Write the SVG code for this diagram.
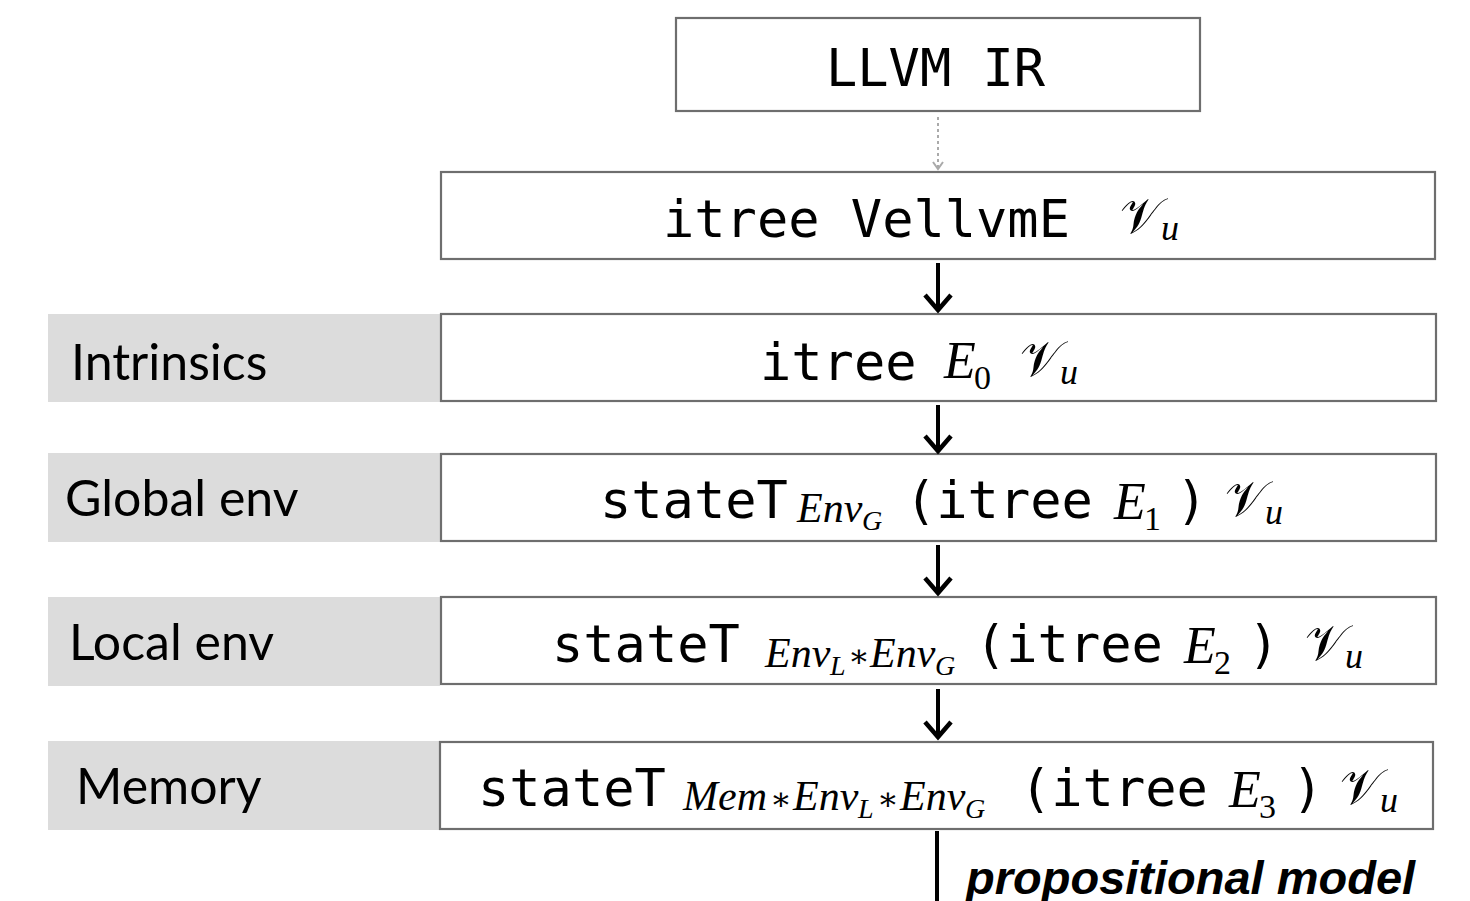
<svg xmlns="http://www.w3.org/2000/svg" width="1470" height="901" viewBox="0 0 1470 901">
  <style>
    .box { fill: #ffffff; stroke: #6e6e6e; stroke-width: 2.2; }
    .band { fill: #dcdcdc; }
    .mono { font-family: "DejaVu Sans Mono", "Liberation Mono", monospace; font-size: 52px; fill: #000; }
    .mi { font-family: "Liberation Serif", serif; font-style: italic; fill: #000; }
    .up { font-family: "Liberation Serif", serif; font-style: normal; fill: #000; }
    .op { font-family: "DejaVu Serif", serif; font-style: normal; font-size: 32px; fill: #000; }
    .cal { font-family: "DejaVu Serif", "DejaVu Sans", serif; font-size: 50px; fill: #000; }
    .lbl { font-family: "Lato", "Open Sans", sans-serif; font-size: 50px; fill: #000; }
    .arrow { stroke: #000; stroke-width: 4; fill: none; }
    .head { stroke: #000; stroke-width: 4.5; fill: none; stroke-linecap: butt; stroke-linejoin: miter; }
  </style>

  <!-- grey layer labels -->
  <g id="layer-intrinsics">
    <rect class="band" x="48" y="314" width="392" height="88"/>
    <text class="lbl" x="71" y="380">Intrinsics</text>
  </g>
  <g id="layer-global">
    <rect class="band" x="48" y="453" width="392" height="89"/>
    <text class="lbl" x="65" y="516">Global env</text>
  </g>
  <g id="layer-local">
    <rect class="band" x="48" y="597" width="392" height="89"/>
    <text class="lbl" x="69" y="660">Local env</text>
  </g>
  <g id="layer-memory">
    <rect class="band" x="48" y="741" width="392" height="89"/>
    <text class="lbl" x="76" y="804">Memory</text>
  </g>

  <!-- semantic levels -->
  <g id="llvm-ir">
    <rect class="box" x="676" y="18" width="524" height="93"/>
    <text class="mono" x="826" y="86">LLVM IR</text>
  </g>

  <g id="itree-vellvm">
    <rect class="box" x="441" y="172" width="994" height="87"/>
    <text class="mono" x="663" y="237">itree VellvmE</text>
    <text class="cal" x="1120" y="233">𝒱</text>
    <text class="mi" x="1161" y="240" font-size="36">u</text>
  </g>

  <g id="itree-e0">
    <rect class="box" x="441" y="314" width="995" height="87"/>
    <text class="mono" x="760" y="380">itree</text>
    <text class="mi" x="944" y="378" font-size="52">E</text>
    <text class="up" x="974" y="389" font-size="34">0</text>
    <text class="cal" x="1020" y="376">𝒱</text>
    <text class="mi" x="1060" y="384" font-size="36">u</text>
  </g>

  <g id="state-global">
    <rect class="box" x="441" y="454" width="995" height="87"/>
    <text class="mono" x="600" y="518">stateT</text>
    <text class="mi" x="797" y="522" font-size="42">Env</text>
    <text class="mi" x="862" y="530" font-size="28">G</text>
    <text class="mono" x="905" y="518">(itree</text>
    <text class="mi" x="1114" y="519" font-size="52">E</text>
    <text class="up" x="1144" y="530" font-size="34">1</text>
    <text class="mono" x="1176" y="518">)</text>
    <text class="cal" x="1225" y="516">𝒱</text>
    <text class="mi" x="1265" y="524" font-size="36">u</text>
  </g>

  <g id="state-local">
    <rect class="box" x="441" y="597" width="995" height="87"/>
    <text class="mono" x="552" y="662">stateT</text>
    <text class="mi" x="765" y="667" font-size="42">Env</text>
    <text class="mi" x="830" y="675" font-size="28">L</text>
    <text class="op" x="848" y="667">∗</text>
    <text class="mi" x="870" y="667" font-size="42">Env</text>
    <text class="mi" x="935" y="675" font-size="28">G</text>
    <text class="mono" x="975" y="662">(itree</text>
    <text class="mi" x="1184" y="663" font-size="52">E</text>
    <text class="up" x="1214" y="674" font-size="34">2</text>
    <text class="mono" x="1248" y="662">)</text>
    <text class="cal" x="1305" y="660">𝒱</text>
    <text class="mi" x="1345" y="668" font-size="36">u</text>
  </g>

  <g id="state-memory">
    <rect class="box" x="440" y="742" width="993" height="87"/>
    <text class="mono" x="478" y="806">stateT</text>
    <text class="mi" x="683" y="810" font-size="42">Mem</text>
    <text class="op" x="770" y="810">∗</text>
    <text class="mi" x="793" y="810" font-size="42">Env</text>
    <text class="mi" x="858" y="818" font-size="28">L</text>
    <text class="op" x="877" y="810">∗</text>
    <text class="mi" x="900" y="810" font-size="42">Env</text>
    <text class="mi" x="965" y="818" font-size="28">G</text>
    <text class="mono" x="1020" y="806">(itree</text>
    <text class="mi" x="1229" y="807" font-size="52">E</text>
    <text class="up" x="1259" y="818" font-size="34">3</text>
    <text class="mono" x="1292" y="806">)</text>
    <text class="cal" x="1340" y="804">𝒱</text>
    <text class="mi" x="1380" y="812" font-size="36">u</text>
  </g>

  <!-- connectors -->
  <g id="connectors">
    <line x1="938" y1="117" x2="938" y2="168" stroke="#aaaaaa" stroke-width="2" stroke-dasharray="3 3"/>
    <polyline points="933,162 938,169 943,162" stroke="#aaaaaa" stroke-width="2" fill="none"/>

    <line class="arrow" x1="938" y1="263" x2="938" y2="309"/>
    <polyline class="head" points="925,295 938,310 951,295"/>

    <line class="arrow" x1="938" y1="405" x2="938" y2="450"/>
    <polyline class="head" points="925,436 938,451 951,436"/>

    <line class="arrow" x1="938" y1="545" x2="938" y2="592"/>
    <polyline class="head" points="925,578 938,593 951,578"/>

    <line class="arrow" x1="938" y1="689" x2="938" y2="736"/>
    <polyline class="head" points="925,722 938,737 951,722"/>

    <line class="arrow" x1="937" y1="831" x2="937" y2="901"/>
    <text x="966" y="894" font-family="Liberation Sans, Arial, sans-serif" font-weight="bold" font-style="italic" font-size="47" fill="#000">propositional model</text>
  </g>
</svg>
